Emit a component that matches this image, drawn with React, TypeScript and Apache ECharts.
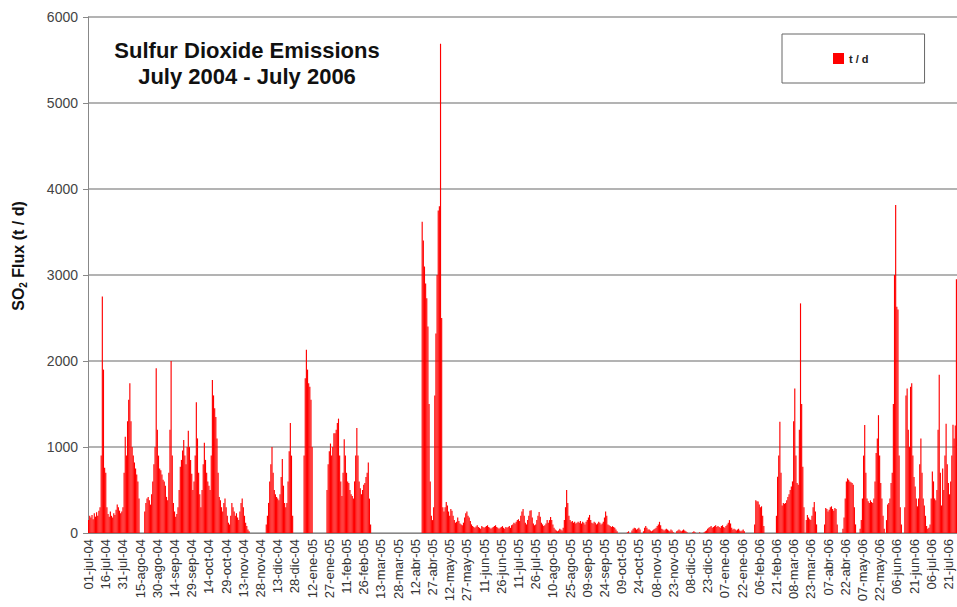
import React, { useEffect, useRef } from "react";
import * as echarts from "echarts";

// Daily SO2 flux (t/d), one array per month, starting 01-jul-2004
const jul04 = [150, 200, 180, 210, 160, 230, 190, 240, 200, 260, 300, 900, 2750, 1900, 760, 700, 300, 220, 190, 250, 200, 180, 230, 210, 270, 330, 300, 260, 230, 250, 300];
const ago04 = [700, 1120, 900, 1300, 1550, 1740, 1300, 1000, 900, 820, 750, 680, 600, 400, 0, 0, 0, 0, 250, 350, 400, 420, 380, 330, 450, 600, 800, 1000, 1915, 1200, 900];
const sep04 = [750, 730, 680, 620, 600, 550, 420, 380, 700, 1200, 2000, 900, 350, 250, 190, 220, 300, 500, 770, 850, 960, 1080, 900, 800, 1000, 1190, 1000, 850, 690, 500];
const oct04 = [600, 900, 1520, 1100, 700, 450, 300, 500, 800, 1050, 850, 700, 600, 550, 500, 900, 1780, 1600, 1450, 1350, 1100, 700, 420, 380, 300, 250, 350, 400, 300, 200, 120];
const nov04 = [100, 200, 350, 300, 250, 200, 230, 180, 150, 250, 350, 400, 300, 200, 120, 80, 40, 20, 0, 0, 0, 0, 0, 0, 0, 0, 0, 0, 0, 0];
const dic04 = [0, 0, 100, 200, 350, 600, 800, 1000, 700, 500, 450, 420, 400, 380, 450, 650, 860, 550, 350, 300, 350, 600, 950, 1280, 900, 200, 0, 0, 0, 0, 0];
const ene05 = [0, 0, 0, 0, 900, 1800, 2130, 1900, 1740, 1700, 1550, 1000, 0, 0, 0, 0, 0, 0, 0, 0, 0, 0, 0, 0, 500, 800, 950, 1040, 900, 1000, 1160];
const feb05 = [1160, 1200, 1280, 1330, 900, 600, 430, 700, 1090, 900, 700, 600, 580, 500, 450, 430, 400, 600, 900, 1220, 900, 600, 520, 450, 500, 560, 580, 650];
const mar05 = [700, 820, 400, 100, 0, 0, 0, 0, 0, 0, 0, 0, 0, 0, 0, 0, 0, 0, 0, 0, 0, 0, 0, 0, 0, 0, 0, 0, 0, 0, 0];
const abr05 = [0, 0, 0, 0, 0, 0, 0, 0, 0, 0, 0, 0, 0, 0, 0, 0, 0, 3620, 3400, 3100, 2900, 2730, 2400, 1500, 600, 200, 150, 300, 1600, 2320];
const may05 = [3000, 3750, 3800, 5690, 2500, 300, 250, 300, 360, 320, 250, 200, 280, 260, 200, 150, 120, 130, 180, 140, 110, 100, 90, 120, 180, 230, 250, 200, 180, 140, 100];
const jun05 = [80, 70, 60, 75, 90, 70, 60, 50, 80, 70, 60, 70, 80, 90, 70, 60, 50, 60, 70, 80, 90, 70, 60, 50, 60, 70, 80, 60, 50, 70];
const jul05 = [60, 70, 80, 60, 90, 100, 120, 110, 130, 150, 160, 140, 200, 250, 280, 200, 120, 100, 150, 200, 260, 265, 180, 110, 90, 100, 150, 200, 245, 190, 120];
const ago05 = [100, 80, 90, 110, 150, 120, 150, 185, 150, 100, 60, 40, 30, 20, 30, 50, 40, 30, 60, 150, 300, 500, 350, 200, 150, 130, 140, 120, 130, 110, 120];
const sep05 = [130, 120, 140, 110, 130, 120, 100, 130, 150, 180, 210, 150, 120, 110, 130, 120, 100, 110, 130, 120, 100, 110, 130, 180, 250, 200, 100, 90, 80, 70];
const oct05 = [80, 70, 60, 40, 20, 0, 0, 0, 0, 0, 0, 0, 0, 10, 20, 0, 0, 30, 50, 60, 55, 40, 50, 60, 40, 0, 0, 20, 60, 80, 60];
const nov05 = [40, 40, 30, 20, 30, 40, 50, 60, 80, 100, 130, 90, 50, 40, 30, 40, 50, 40, 30, 20, 40, 30, 10, 0, 0, 20, 30, 40, 30, 20];
const dic05 = [30, 40, 30, 20, 10, 0, 0, 0, 0, 10, 20, 10, 0, 0, 0, 10, 0, 0, 0, 10, 20, 30, 50, 60, 70, 80, 60, 70, 80, 90, 70];
const ene06 = [80, 70, 60, 80, 90, 70, 60, 80, 100, 120, 150, 110, 60, 40, 50, 40, 30, 40, 50, 30, 20, 30, 40, 20, 0, 0, 0, 0, 0, 0, 0];
const feb06 = [0, 100, 380, 370, 365, 330, 300, 310, 200, 80, 0, 0, 0, 0, 0, 0, 0, 0, 0, 0, 200, 655, 900, 1295, 700, 320, 350, 340];
const mar06 = [350, 380, 420, 450, 500, 540, 600, 1300, 1680, 900, 580, 560, 1200, 2670, 1500, 770, 300, 0, 150, 210, 180, 160, 150, 200, 300, 360, 250, 100, 0, 0, 0];
const abr06 = [0, 0, 0, 100, 290, 280, 250, 270, 300, 310, 280, 260, 290, 280, 100, 0, 0, 0, 0, 50, 180, 400, 600, 635, 620, 600, 590, 580, 560, 300];
const may06 = [100, 0, 0, 0, 50, 150, 400, 900, 1255, 700, 400, 370, 350, 380, 360, 350, 400, 600, 930, 1100, 1370, 900, 580, 400, 200, 50, 0, 150, 330, 350, 400];
const jun06 = [580, 700, 1500, 3000, 3815, 2630, 2600, 900, 300, 100, 0, 0, 300, 1600, 1680, 1200, 1000, 1700, 1740, 900, 650, 540, 400, 310, 400, 800, 1100, 700, 400, 320];
const jul06 = [200, 80, 50, 60, 100, 400, 715, 600, 400, 380, 500, 1200, 1840, 700, 320, 750, 500, 900, 1270, 800, 580, 450, 600, 900, 1260, 1100, 1250, 2950];

const flux: number[] = [
  ...jul04, ...ago04, ...sep04, ...oct04, ...nov04, ...dic04,
  ...ene05, ...feb05, ...mar05, ...abr05, ...may05, ...jun05,
  ...jul05, ...ago05, ...sep05, ...oct05, ...nov05, ...dic05,
  ...ene06, ...feb06, ...mar06, ...abr06, ...may06, ...jun06, ...jul06,
];

// Spanish month abbreviations used in the date labels
const monthNames = ["ene", "feb", "mar", "abr", "may", "jun", "jul", "ago", "sep", "oct", "nov", "dic"];
const firstDay = Date.UTC(2004, 6, 1);
const dayMs = 86400000;

const dates: string[] = flux.map((_, i) => {
  const d = new Date(firstDay + i * dayMs);
  const dd = String(d.getUTCDate()).padStart(2, "0");
  const yy = String(d.getUTCFullYear()).slice(2);
  return `${dd}-${monthNames[d.getUTCMonth()]}-${yy}`;
});

const yTicks = [0, 1000, 2000, 3000, 4000, 5000, 6000];
const titleLines = ["Sulfur Dioxide Emissions", "July 2004 - July 2006"];
const seriesName = "t / d";

const FONT = "'Liberation Sans', Arial, sans-serif";

export default function App() {
  const ref = useRef<HTMLDivElement>(null);

  useEffect(() => {
    if (!ref.current) return;
    const chart = echarts.init(ref.current, null, { renderer: "svg" });
    chart.setOption({
      animation: false,
      backgroundColor: "#ffffff",
      textStyle: { fontFamily: FONT },
      grid: { left: 88, right: 0, top: 17, bottom: 74, containLabel: false },
      legend: {
        data: [seriesName],
        left: 782,
        top: 34,
        padding: [19, 56, 19, 51],
        itemWidth: 11,
        itemHeight: 11,
        icon: "rect",
        borderColor: "#666666",
        borderWidth: 1,
        backgroundColor: "#ffffff",
        textStyle: { fontFamily: FONT, fontSize: 11, fontWeight: "bold", color: "#222" },
      },
      graphic: [
        {
          type: "text",
          x: 247,
          y: 37,
          style: {
            text: titleLines.join("\n"),
            fontFamily: FONT,
            fontSize: 22,
            fontWeight: "bold",
            fill: "#111",
            align: "center",
            verticalAlign: "top",
            lineHeight: 26,
          },
        },
        {
          // rotated y-axis title with a subscript 2
          type: "text",
          x: 18,
          y: 256,
          rotation: Math.PI / 2,
          style: {
            text: "{a|SO}{s|2}{a| Flux (t / d)}",
            align: "center",
            verticalAlign: "middle",
            fill: "#111",
            rich: {
              a: { fontFamily: FONT, fontSize: 16, fontWeight: "bold", fill: "#111", lineHeight: 20 },
              s: { fontFamily: FONT, fontSize: 10, fontWeight: "bold", fill: "#111", lineHeight: 12, verticalAlign: "bottom" },
            },
          },
        },
      ],
      xAxis: {
        type: "category",
        data: dates,
        boundaryGap: true,
        axisLine: { lineStyle: { color: "#888", width: 1 } },
        axisTick: { interval: 14, alignWithLabel: true, length: 4, lineStyle: { color: "#888" } },
        axisLabel: {
          interval: 14,
          rotate: 90,
          fontSize: 13,
          color: "#333",
          fontFamily: FONT,
          margin: 6,
        },
        splitLine: { show: false },
      },
      yAxis: {
        type: "value",
        min: yTicks[0],
        max: yTicks[yTicks.length - 1],
        interval: 1000,
        axisLine: { show: true, lineStyle: { color: "#888", width: 1 } },
        axisTick: { show: true, length: 5, lineStyle: { color: "#888" } },
        axisLabel: {
          fontSize: 14,
          color: "#444",
          fontFamily: FONT,
          margin: 10,
          formatter: (v: number) => String(v),
        },
        splitLine: { lineStyle: { color: "#9a9a9a", width: 1.5 } },
      },
      series: [
        {
          name: seriesName,
          type: "bar",
          data: flux,
          barWidth: "100%",
          barCategoryGap: "0%",
          itemStyle: { color: "#ff0000" },
          emphasis: { disabled: true },
        },
      ],
    });
    return () => chart.dispose();
  }, []);

  return (
    <div
      ref={ref}
      style={{ position: "absolute", left: 0, top: 0, width: 957, height: 607 }}
    />
  );
}
